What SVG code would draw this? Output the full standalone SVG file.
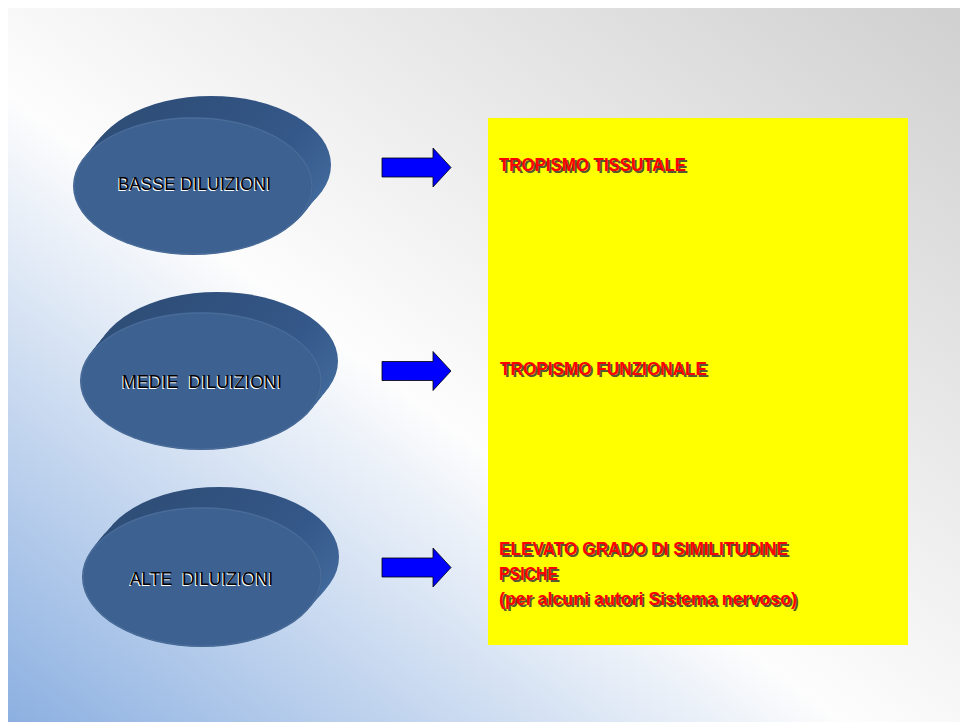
<svg xmlns="http://www.w3.org/2000/svg" xmlns:xlink="http://www.w3.org/1999/xlink" width="960" height="722" viewBox="0 0 960 722">
<defs>
<linearGradient id="bg" x1="0" y1="1" x2="1" y2="0">
<stop offset="0" stop-color="#8cb0e1"/>
<stop offset="0.44" stop-color="#fdfdfd"/>
<stop offset="1" stop-color="#d0d0d0"/>
</linearGradient>
<linearGradient id="side" x1="0" y1="0" x2="1" y2="1">
<stop offset="0" stop-color="#2c4b72"/>
<stop offset="0.55" stop-color="#35588a"/>
<stop offset="1" stop-color="#4a74a6"/>
</linearGradient>
<path id="arrow" d="M0,-9.5 H51 V-19.5 L69,0 L51,19.5 V9.5 H0 Z"/>
</defs>
<style>
.face{fill:#3d6190;}
.rim{fill:none;stroke:#5878a3;stroke-width:1;opacity:0.6;}
.lbl{font-family:"Liberation Sans",Arial,sans-serif;font-size:18.5px;text-anchor:middle;}
.lbl-sh{fill:#ffffff;}
.lbl-tx{fill:#000000;}
.red{font-family:"Liberation Sans",Arial,sans-serif;font-size:18.5px;font-weight:bold;}
.red-sh{fill:#3a3a3a;opacity:0.85;}
.red-tx{fill:#ff0000;}
.arr{fill:#0000ff;stroke:#000000;stroke-width:0.8;}
</style>
<rect x="0" y="0" width="960" height="722" fill="#ffffff"/>
<rect x="8" y="8" width="952" height="714" fill="url(#bg)"/>

<g id="box">
<rect x="488" y="118" width="420" height="527" fill="#ffff00"/>
</g>

<g id="node-basse">
<g fill="url(#side)">
<ellipse cx="211" cy="165" rx="120" ry="69"/>
<ellipse cx="207" cy="169" rx="120" ry="69"/>
<ellipse cx="203" cy="174" rx="120" ry="69"/>
<ellipse cx="199" cy="179" rx="120" ry="69"/>
<ellipse cx="196" cy="183" rx="120" ry="69"/>
</g>
<ellipse class="face" cx="193" cy="186" rx="120" ry="69"/>
<ellipse class="rim" cx="193" cy="186" rx="119" ry="68"/>
<text class="lbl lbl-sh" x="193.5" y="191" textLength="153" lengthAdjust="spacingAndGlyphs">BASSE DILUIZIONI</text>
<text class="lbl lbl-tx" x="194.5" y="190" textLength="153" lengthAdjust="spacingAndGlyphs">BASSE DILUIZIONI</text>
</g>

<g id="node-medie">
<g fill="url(#side)">
<ellipse cx="217" cy="361" rx="121" ry="69"/>
<ellipse cx="213" cy="366" rx="121" ry="69"/>
<ellipse cx="209" cy="371" rx="121" ry="69"/>
<ellipse cx="205" cy="376" rx="121" ry="69"/>
</g>
<ellipse class="face" cx="201" cy="381" rx="121" ry="69"/>
<ellipse class="rim" cx="201" cy="381" rx="120" ry="68"/>
<text class="lbl lbl-sh" x="201" y="389" textLength="160" lengthAdjust="spacingAndGlyphs" xml:space="preserve">MEDIE  DILUIZIONI</text>
<text class="lbl lbl-tx" x="202" y="388" textLength="160" lengthAdjust="spacingAndGlyphs" xml:space="preserve">MEDIE  DILUIZIONI</text>
</g>

<g id="node-alte">
<g fill="url(#side)">
<ellipse cx="219" cy="557" rx="120" ry="70"/>
<ellipse cx="215" cy="562" rx="120" ry="70"/>
<ellipse cx="210" cy="567" rx="120" ry="70"/>
<ellipse cx="206" cy="572" rx="120" ry="70"/>
</g>
<ellipse class="face" cx="202" cy="577" rx="120" ry="70"/>
<ellipse class="rim" cx="202" cy="577" rx="119" ry="69"/>
<text class="lbl lbl-sh" x="200.5" y="586" textLength="143" lengthAdjust="spacingAndGlyphs" xml:space="preserve">ALTE  DILUIZIONI</text>
<text class="lbl lbl-tx" x="201.5" y="585" textLength="143" lengthAdjust="spacingAndGlyphs" xml:space="preserve">ALTE  DILUIZIONI</text>
</g>

<g id="connectors">
<use xlink:href="#arrow" class="arr" x="382" y="167.5"/>
<use xlink:href="#arrow" class="arr" x="382" y="371"/>
<use xlink:href="#arrow" class="arr" x="382" y="567.5"/>
</g>

<g id="text-tissutale">
<text class="red red-sh" x="501" y="173" textLength="187" lengthAdjust="spacingAndGlyphs">TROPISMO TISSUTALE</text>
<text class="red red-tx" x="499" y="171" textLength="187" lengthAdjust="spacingAndGlyphs">TROPISMO TISSUTALE</text>
</g>
<g id="text-funzionale">
<text class="red red-sh" x="502" y="377" textLength="207" lengthAdjust="spacingAndGlyphs">TROPISMO FUNZIONALE</text>
<text class="red red-tx" x="500" y="375" textLength="207" lengthAdjust="spacingAndGlyphs">TROPISMO FUNZIONALE</text>
</g>
<g id="text-psiche">
<text class="red red-sh" x="501" y="557" textLength="289" lengthAdjust="spacingAndGlyphs">ELEVATO GRADO DI SIMILITUDINE</text>
<text class="red red-tx" x="499" y="555" textLength="289" lengthAdjust="spacingAndGlyphs">ELEVATO GRADO DI SIMILITUDINE</text>
<text class="red red-sh" x="501" y="582" textLength="59" lengthAdjust="spacingAndGlyphs">PSICHE</text>
<text class="red red-tx" x="499" y="580" textLength="59" lengthAdjust="spacingAndGlyphs">PSICHE</text>
<text class="red red-sh" x="501" y="607" textLength="298" lengthAdjust="spacingAndGlyphs">(per alcuni autori Sistema nervoso)</text>
<text class="red red-tx" x="499" y="605" textLength="298" lengthAdjust="spacingAndGlyphs">(per alcuni autori Sistema nervoso)</text>
</g>
</svg>
